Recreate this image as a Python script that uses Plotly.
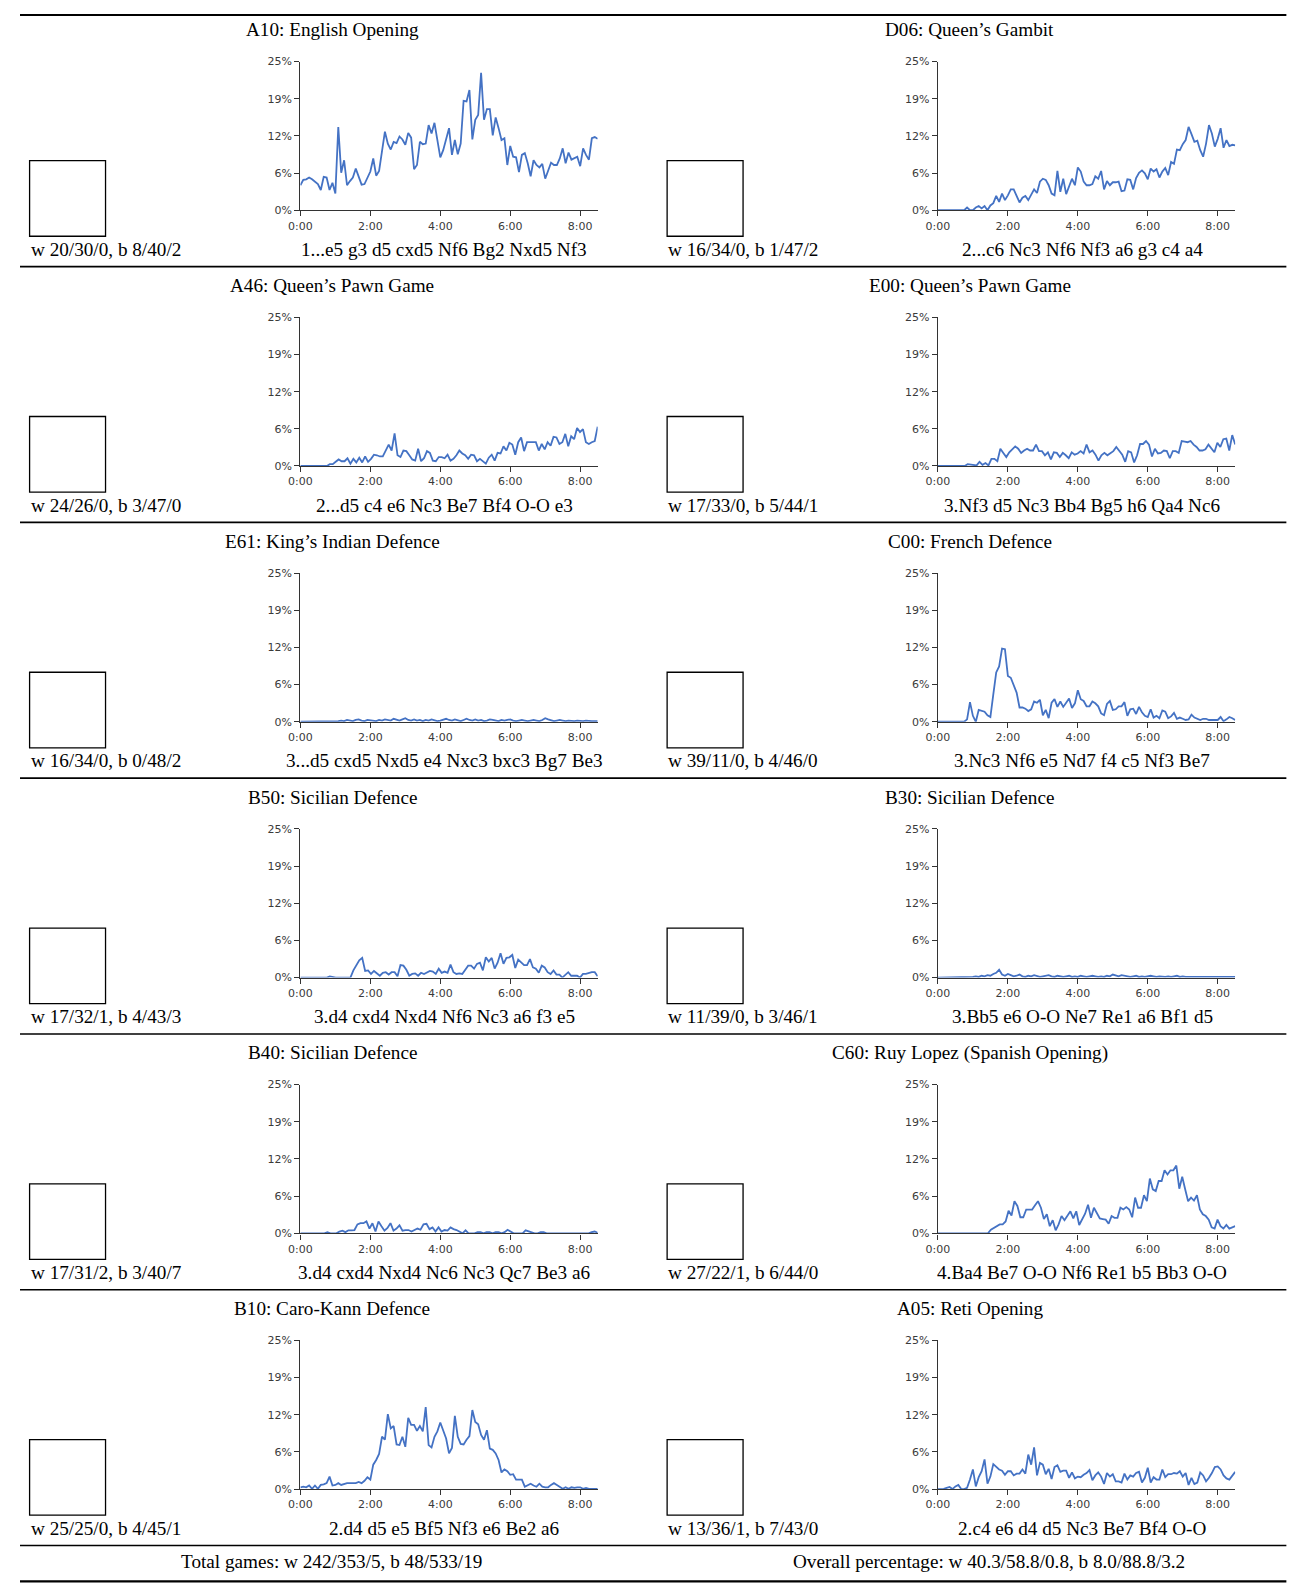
import plotly.graph_objects as go

# ---------------- data ----------------
titles = ["A10: English Opening", "D06: Queen\u2019s Gambit",
          "A46: Queen\u2019s Pawn Game", "E00: Queen\u2019s Pawn Game",
          "E61: King\u2019s Indian Defence", "C00: French Defence",
          "B50: Sicilian Defence", "B30: Sicilian Defence",
          "B40: Sicilian Defence", "C60: Ruy Lopez (Spanish Opening)",
          "B10: Caro-Kann Defence", "A05: Reti Opening"]

moves = ["1...e5 g3 d5 cxd5 Nf6 Bg2 Nxd5 Nf3", "2...c6 Nc3 Nf6 Nf3 a6 g3 c4 a4",
         "2...d5 c4 e6 Nc3 Be7 Bf4 O-O e3", "3.Nf3 d5 Nc3 Bb4 Bg5 h6 Qa4 Nc6",
         "3...d5 cxd5 Nxd5 e4 Nxc3 bxc3 Bg7 Be3", "3.Nc3 Nf6 e5 Nd7 f4 c5 Nf3 Be7",
         "3.d4 cxd4 Nxd4 Nf6 Nc3 a6 f3 e5", "3.Bb5 e6 O-O Ne7 Re1 a6 Bf1 d5",
         "3.d4 cxd4 Nxd4 Nc6 Nc3 Qc7 Be3 a6", "4.Ba4 Be7 O-O Nf6 Re1 b5 Bb3 O-O",
         "2.d4 d5 e5 Bf5 Nf3 e6 Be2 a6", "2.c4 e6 d4 d5 Nc3 Be7 Bf4 O-O"]

records = ["w 20/30/0, b 8/40/2", "w 16/34/0, b 1/47/2",
           "w 24/26/0, b 3/47/0", "w 17/33/0, b 5/44/1",
           "w 16/34/0, b 0/48/2", "w 39/11/0, b 4/46/0",
           "w 17/32/1, b 4/43/3", "w 11/39/0, b 3/46/1",
           "w 17/31/2, b 3/40/7", "w 27/22/1, b 6/44/0",
           "w 25/25/0, b 4/45/1", "w 13/36/1, b 7/43/0"]

footer_left = "Total games: w 242/353/5, b 48/533/19"
footer_right = "Overall percentage: w 40.3/58.8/0.8, b 8.0/88.8/3.2"

y_tick_vals = [0, 6.25, 12.5, 18.75, 25]
y_tick_text = ["0%", "6%", "12%", "19%", "25%"]
x_tick_vals = [0, 2, 4, 6, 8]
x_tick_text = ["0:00", "2:00", "4:00", "6:00", "8:00"]
x_end_hours = 8.5

a10 = [4.2, 5.1, 5.2, 5.5, 5.2, 4.8, 4.4, 3.4, 5.6, 5.5,
       3.4, 4.6, 2.8, 14.0, 6.3, 8.4, 4.2, 4.9, 5.5, 7.0,
       5.6, 4.3, 4.4, 5.6, 6.5, 8.7, 5.8, 6.6, 9.6, 13.2,
       11.2, 10.2, 11.5, 11.3, 12.4, 11.9, 11.0, 13.0, 12.2, 6.9,
       7.6, 11.5, 11.1, 11.2, 14.3, 12.9, 14.7, 11.5, 8.9, 10.1,
       11.8, 13.8, 9.3, 11.8, 9.4, 11.2, 18.4, 18.3, 20.2, 11.9,
       15.2, 16.0, 23.1, 15.2, 17.0, 17.0, 12.6, 15.6, 13.8, 11.8,
       12.1, 7.6, 10.8, 9.0, 8.9, 6.4, 9.3, 9.6, 7.9, 5.7,
       8.4, 7.6, 7.2, 7.8, 5.3, 6.6, 8.0, 7.6, 7.6, 8.7,
       10.4, 7.9, 9.7, 8.5, 8.8, 9.0, 7.4, 10.4, 9.3, 8.5,
       12.1, 12.3, 12.0]

d06 = [0, 0, 0, 0, 0, 0, 0, 0, 0, 0,
       0.45, 0, 0, 0.45, 0.7, 0.3, 0.7, 0, 0.8, 1.2,
       2.4, 1.4, 2.8, 1.7, 2.5, 3.5, 3.5, 2.5, 1.3, 2.1,
       2.4, 1.7, 2.5, 3.5, 2.9, 4.8, 5.3, 5.1, 4.2, 2.8,
       2.5, 6.6, 3.1, 5.3, 2.7, 4.2, 5.3, 4.2, 7.2, 6.5,
       4.8, 4.2, 4.2, 4.4, 5.7, 5.3, 6.6, 3.5, 4.9, 4.2,
       4.7, 4.7, 4.8, 3.2, 3.3, 5.2, 5.1, 3.5, 5.4, 6.3,
       6.7, 6.2, 5.2, 7.0, 6.5, 6.9, 5.5, 6.5, 7.1, 5.9,
       8.1, 7.8, 10.2, 10.1, 11.1, 11.8, 14.0, 12.8, 11.5, 11.7,
       10.1, 9.0, 11.2, 14.3, 12.9, 10.7, 12.0, 13.8, 10.5, 11.8,
       10.8, 11.0, 10.9]

a46 = [0, 0, 0, 0, 0, 0, 0, 0, 0, 0,
       0.3, 0.3, 0.7, 1.1, 0.8, 0.8, 1.3, 0.4, 1.2, 0.6,
       1.4, 0.6, 1.6, 0.7, 1.2, 1.9, 1.8, 1.6, 1.6, 2.6,
       3.6, 2.6, 5.5, 1.8, 1.5, 2.6, 2.5, 1.8, 1.1, 0.9,
       2.9, 0.8, 1.3, 2.5, 2.2, 0.9, 0.8, 1.5, 1.5, 1.3,
       1.9, 0.9, 1.2, 1.8, 2.6, 2.1, 1.8, 1.2, 1.9, 1.8,
       0.8, 1.2, 0.8, 0.4, 1.4, 1.9, 0.9, 2.2, 2.1, 3.3,
       2.6, 3.9, 3.6, 1.9, 4.0, 4.8, 2.5, 4.0, 4.0, 4.0,
       4.0, 2.6, 3.7, 2.8, 4.0, 3.4, 4.9, 4.8, 3.7, 4.0,
       5.4, 3.3, 5.0, 4.5, 6.4, 5.7, 6.2, 4.0, 3.7, 4.0,
       4.2, 6.6]

e00 = [0, 0, 0, 0, 0, 0, 0, 0, 0, 0,
       0.3, 0.2, 0.1, 0.1, 0.7, 0.2, 0.5, 0.1, 1.2, 1.2,
       0.8, 2.9, 2.2, 1.5, 2.3, 2.8, 3.3, 2.9, 2.2, 2.6,
       2.9, 2.6, 2.6, 3.6, 2.5, 2.5, 1.8, 2.3, 1.1, 2.3,
       2.2, 1.5, 2.2, 1.8, 1.3, 2.3, 1.9, 2.1, 2.5, 2.1,
       3.6, 2.3, 2.6, 1.9, 0.9, 1.8, 2.2, 1.8, 2.1, 2.5,
       3.2, 2.5, 1.9, 0.7, 2.5, 2.3, 0.6, 1.8, 3.7, 3.7,
       4.2, 3.6, 1.6, 2.9, 2.1, 2.2, 2.6, 2.5, 1.3, 2.5,
       2.5, 2.2, 4.2, 4.1, 4.0, 4.2, 3.6, 3.2, 2.6, 2.6,
       2.8, 3.6, 2.9, 2.3, 3.9, 3.2, 4.5, 4.6, 2.6, 5.2,
       3.6]

e61 = [0, 0, 0, 0, 0, 0, 0, 0, 0, 0,
       0, 0.1, 0, 0.1, 0.2, 0.1, 0.3, 0.2, 0.1, 0.3,
       0.4, 0.2, 0.1, 0.3, 0.2, 0.2, 0.1, 0.3, 0.2, 0.4,
       0.3, 0.2, 0.5, 0.3, 0.2, 0.4, 0.6, 0.3, 0.2, 0.4,
       0.2, 0.3, 0.1, 0.3, 0.2, 0.4, 0.3, 0.1, 0.2, 0.3,
       0.5, 0.3, 0.2, 0.4, 0.2, 0.1, 0.3, 0.5, 0.3, 0.2,
       0.4, 0.2, 0.3, 0.1, 0.2, 0.4, 0.3, 0.2, 0.1, 0.3,
       0.2, 0.3, 0.4, 0.2, 0.1, 0.2, 0.3, 0.2, 0.1, 0.2,
       0.3, 0.2, 0.1, 0.3, 0.6, 0.4, 0.2, 0.1, 0.2, 0.3,
       0.2, 0.1, 0.2, 0.1, 0.1, 0.2, 0.1, 0.1, 0.2, 0.1,
       0.1, 0.1, 0.1]

c00 = [0, 0, 0, 0, 0, 0, 0, 0, 0, 0,
       0.4, 3.3, 1.0, 0, 2.0, 1.8, 1.7, 1.1, 0.8, 4.6,
       8.3, 9.3, 12.3, 12.2, 7.7, 7.4, 6.0, 4.9, 2.4, 2.4,
       2.2, 1.8, 2.1, 3.4, 3.2, 3.7, 1.1, 2.0, 0.6, 3.2,
       3.8, 2.5, 3.4, 2.5, 3.2, 3.9, 2.3, 3.1, 5.3, 3.8,
       3.5, 2.6, 2.6, 3.4, 3.1, 2.6, 1.4, 1.1, 3.0, 3.5,
       2.0, 2.1, 2.6, 2.6, 3.3, 1.0, 2.1, 2.2, 1.3, 2.5,
       1.6, 1.0, 0.8, 2.1, 0.7, 1.0, 0.6, 1.9, 1.7, 0.6,
       0.9, 1.5, 0.5, 0.7, 0.5, 0.3, 0.4, 1.2, 0.7, 0.5,
       0.3, 0.5, 0.5, 0.3, 0.3, 0.3, 0.3, 0.8, 0.1, 0.4,
       0.8, 0.6, 0.3]

b50 = [0, 0, 0, 0, 0, 0, 0, 0, 0, 0,
       0.2, 0.05, 0, 0, 0, 0, 0, 0, 1.2, 2.0,
       2.9, 3.3, 1.1, 1.2, 0.6, 1.1, 0.7, 0.3, 0.8, 0.9,
       0.5, 0.9, 0.9, 0.2, 2.1, 2.0, 1.3, 0.3, 0.6, 0.7,
       0.3, 0.8, 0.6, 0.8, 1.1, 1.0, 0.6, 1.5, 0.8, 1.0,
       0.8, 2.2, 0.9, 0.6, 0.7, 0.6, 1.3, 2.0, 2.0, 1.5,
       2.3, 2.5, 1.2, 3.4, 2.7, 3.3, 1.5, 2.5, 4.1, 2.3,
       3.3, 3.4, 3.8, 1.6, 3.0, 2.6, 2.1, 2.1, 3.1, 1.7,
       1.5, 0.8, 2.0, 1.7, 0.9, 0.6, 1.2, 0.5, 0.5, 0,
       0.5, 0.9, 0.3, 0.3, 0.3, 0, 0.6, 0.6, 0.8, 0.9,
       0.9, 0.2]

b30 = [0, 0, 0, 0, 0, 0, 0, 0, 0, 0,
       0, 0, 0.1, 0.2, 0.1, 0.3, 0.2, 0.4, 0.3, 0.6,
       0.8, 1.3, 0.5, 0.3, 0.6, 0.4, 0.2, 0.3, 0.5, 0.2,
       0.1, 0.3, 0.2, 0.4, 0.3, 0.1, 0.2, 0.3, 0.4, 0.2,
       0.1, 0.3, 0.2, 0.1, 0.2, 0.3, 0.1, 0.2, 0.1, 0.3,
       0.2, 0.1, 0.2, 0.3, 0.2, 0.1, 0.2, 0.1, 0.3, 0.2,
       0.5, 0.3, 0.2, 0.4, 0.3, 0.2, 0.1, 0.2, 0.3, 0.1,
       0.2, 0.1, 0.2, 0.3, 0.2, 0.1, 0.2, 0.1, 0.1, 0.2,
       0.1, 0.2, 0.3, 0.1, 0.2, 0.1, 0.1, 0.2, 0.1, 0.1,
       0.2, 0.1, 0.1, 0.1, 0.2, 0.1, 0.1, 0.2, 0.1, 0.1,
       0.1, 0.1, 0.1]

b40 = [0, 0, 0, 0, 0, 0, 0, 0, 0,
       0.2, 0, 0, 0, 0.3, 0.45, 0.2, 0.5, 0.5, 0.55,
       1.5, 1.7, 1.7, 2.0, 0.8, 1.7, 0.3, 2.0, 1.2, 0.45,
       0.9, 1.7, 0.45, 0.8, 1.35, 0.45, 0.55, 0.55, 0.3, 0.55,
       0.8, 0.6, 1.5, 1.6, 0.7, 1.0, 0.3, 1.0, 0.3, 0.55,
       0.45, 1.0, 0.7, 0.55, 0.3, 0, 0.5, 0, 0, 0,
       0.2, 0.2, 0, 0.2, 0.2, 0, 0.2, 0.2, 0, 0.2,
       0.6, 0.3, 0, 0, 0, 0, 0.5, 0.3, 0.2, 0,
       0, 0.2, 0.2, 0, 0, 0, 0, 0, 0, 0,
       0, 0, 0, 0, 0, 0, 0, 0, 0.2, 0.3,
       0.1]

c60 = [0, 0, 0, 0, 0, 0, 0, 0, 0, 0,
       0, 0, 0, 0, 0, 0, 0, 0,
       0.6, 0.9, 1.1, 1.5, 1.5, 2.0, 3.8, 3.0, 5.4, 4.6,
       2.7, 2.7, 4.0, 4.0, 4.0, 4.7, 5.4, 4.3, 2.4, 3.2,
       1.2, 2.2, 0.5, 1.5, 2.9, 2.2, 3.0, 3.7, 2.5, 3.7,
       1.4, 2.3, 3.3, 4.8, 2.6, 4.3, 3.3, 2.5, 2.4, 2.3,
       1.6, 2.9, 2.6, 2.6, 4.3, 4.0, 4.4, 4.0, 2.7, 6.0,
       4.3, 4.3, 6.4, 5.4, 9.2, 7.4, 7.1, 8.8, 8.8, 10.6,
       9.9, 10.6, 10.6, 11.4, 7.5, 9.5, 7.4, 5.4, 6.0, 5.5,
       6.4, 4.0, 3.2, 2.9, 2.3, 1.0, 0.8, 2.3, 1.2, 0.8,
       1.4, 0.8, 1.0, 1.2]

b10 = [0.3, 0.4, 0.3, 0.6, 0.05, 0.6, 0.05, 0.7, 0.8,
       1.0, 2.1, 0.6, 0.7, 1.0, 0.7, 0.9, 1.0, 1.0, 1.0,
       1.0, 1.2, 1.0, 1.4, 2.0, 1.6, 4.1, 4.9, 5.9, 8.8,
       8.3, 12.6, 10.2, 10.6, 7.5, 7.4, 8.8, 7.1, 12.0, 10.8,
       10.8, 9.8, 10.6, 9.7, 13.8, 7.4, 7.0, 8.8, 9.7, 11.2,
       9.8, 8.5, 6.0, 6.9, 12.3, 8.8, 7.6, 7.5, 8.3, 8.9,
       13.3, 11.3, 10.9, 9.1, 8.3, 9.9, 6.8, 6.6, 6.0, 4.9,
       2.8, 3.3, 3.0, 2.4, 2.5, 1.6, 1.6, 1.6, 0.4, 0.7,
       0.9, 0.6, 0.4, 0.9, 0.4, 0.3, 0.3, 0.7, 1.0, 0.7,
       0.3, 0.05, 0.3, 0.05, 0.3, 0.2, 0.3, 0.3, 0.05, 0.2,
       0.05, 0.05, 0.1, 0.05]

a05 = [0, 0, 0.05, 0.2, 0.35, 0, 0.45, 0.7, 0, 0,
       0.2, 1.6, 3.3, 0.45, 2.0, 3.0, 5.0, 0.9, 2.1, 4.2,
       3.8, 3.3, 3.1, 2.4, 3.0, 3.0, 2.3, 2.6, 2.6, 3.3,
       2.6, 5.8, 4.1, 7.0, 2.3, 4.4, 4.1, 2.5, 3.4, 1.7,
       3.7, 4.0, 2.9, 3.1, 3.1, 1.9, 2.8, 1.8, 2.1, 2.0,
       2.4, 2.7, 3.2, 1.5, 2.3, 2.8, 2.1, 0.85, 2.7, 2.1,
       2.5, 1.3, 1.3, 1.1, 2.6, 1.6, 2.3, 2.1, 2.7, 2.9,
       1.1, 1.9, 3.6, 1.1, 2.0, 1.6, 1.6, 3.3, 2.0, 2.5,
       2.5, 2.7, 2.6, 3.0, 2.1, 2.7, 0.7, 1.9, 0.85,
       1.1, 2.8, 2.3, 1.3, 1.9, 2.7, 3.7, 3.8, 3.3, 2.3,
       1.8, 1.6, 2.3, 2.9]

series = [a10, d06, a46, e00, e61, c00, b50, b30, b40, c60, b10, a05]

# ---------------- layout geometry (target picture pixels) ----------------
W, H = 1300, 1593
# measured placement of the figure inside the photographed page
OX, SX = 18.7, 0.9915
OY, SY = 15.85, 0.990
ROW0 = 12.7          # first separator
PITCH = 255.3        # row height
COL_DX = 638.0       # column offset
PLOT_X0 = 299.3      # left edge of plot area (left column)
PLOT_W = 297.5
LINE_COLOR = "#4472c4"
SERIF = "Liberation Serif, Times New Roman, serif"
SANS = "DejaVu Sans, Verdana, sans-serif"
TXT = 19.0 / SY


def px(x):
    return ((x - OX) / SX) / W


def py(y):
    f = (y - OY) / SY
    return 1 - max(f, 1.0) / H


fig = go.Figure()
layout = {}
annotations = []
shapes = []

for i, vals in enumerate(series):
    r, c = divmod(i, 2)
    S = ROW0 + PITCH * r
    dx = COL_DX * c
    k = i + 1
    n = len(vals)
    xs = [x_end_hours * j / (n - 1) for j in range(n)]
    fig.add_trace(go.Scatter(
        x=xs, y=vals, mode="lines",
        line=dict(color=LINE_COLOR, width=1.8),
        xaxis=f"x{k}", yaxis=f"y{k}",
        showlegend=False, hoverinfo="skip"))
    axis_common = dict(showline=True, linecolor="#333333", linewidth=1.4,
                       ticks="outside", ticklen=5, tickwidth=1.2, tickcolor="#333333",
                       showgrid=False, zeroline=False, fixedrange=True,
                       tickfont=dict(family=SANS, size=11, color="#3a3a3a"))
    layout[f"xaxis{k}"] = dict(
        domain=[px(PLOT_X0 + dx), px(PLOT_X0 + dx + PLOT_W)],
        range=[0, x_end_hours], anchor=f"y{k}",
        tickmode="array", tickvals=x_tick_vals, ticktext=x_tick_text,
        **axis_common)
    layout[f"yaxis{k}"] = dict(
        domain=[py(S + 199.0), py(S + 50.6)],
        range=[0, 25], anchor=f"x{k}",
        tickmode="array", tickvals=y_tick_vals, ticktext=y_tick_text,
        **axis_common)

    annotations.append(dict(x=px(331.4 + dx), y=py(S + 19), xref="paper", yref="paper",
                            text=titles[i], showarrow=False, xanchor="center", yanchor="middle",
                            font=dict(family=SERIF, size=TXT, color="#000000")))
    annotations.append(dict(x=px(443.5 + dx), y=py(S + 238), xref="paper", yref="paper",
                            text=moves[i], showarrow=False, xanchor="center", yanchor="middle",
                            font=dict(family=SERIF, size=TXT, color="#000000")))
    annotations.append(dict(x=px(27.5 + dx), y=py(S + 238), xref="paper", yref="paper",
                            text=records[i], showarrow=False, xanchor="left", yanchor="middle",
                            font=dict(family=SERIF, size=TXT, color="#000000")))
    shapes.append(dict(type="rect", xref="paper", yref="paper",
                       x0=px(28.3 + dx), x1=px(104.3 + dx),
                       y0=py(S + 225), y1=py(S + 149.6),
                       line=dict(color="#000000", width=1.3), fillcolor="rgba(0,0,0,0)"))

for r in range(7):
    S = ROW0 + PITCH * r
    shapes.append(dict(type="line", xref="paper", yref="paper",
                       x0=0, x1=px(1286), y0=py(S), y1=py(S),
                       line=dict(color="#000000", width=2.0 if r == 0 else 1.6)))
shapes.append(dict(type="line", xref="paper", yref="paper",
                   x0=0, x1=px(1286), y0=py(1580.3), y1=py(1580.3),
                   line=dict(color="#000000", width=2.2)))

annotations.append(dict(x=px(330), y=py(1560.3), xref="paper", yref="paper",
                        text=footer_left, showarrow=False, xanchor="center", yanchor="middle",
                        font=dict(family=SERIF, size=TXT, color="#000000")))
annotations.append(dict(x=px(988), y=py(1560.3), xref="paper", yref="paper",
                        text=footer_right, showarrow=False, xanchor="center", yanchor="middle",
                        font=dict(family=SERIF, size=TXT, color="#000000")))

fig.update_layout(width=W, height=H, margin=dict(l=0, r=0, t=0, b=0),
                  paper_bgcolor="#ffffff", plot_bgcolor="#ffffff",
                  annotations=annotations, shapes=shapes, **layout)

fig.write_html("out.html")
